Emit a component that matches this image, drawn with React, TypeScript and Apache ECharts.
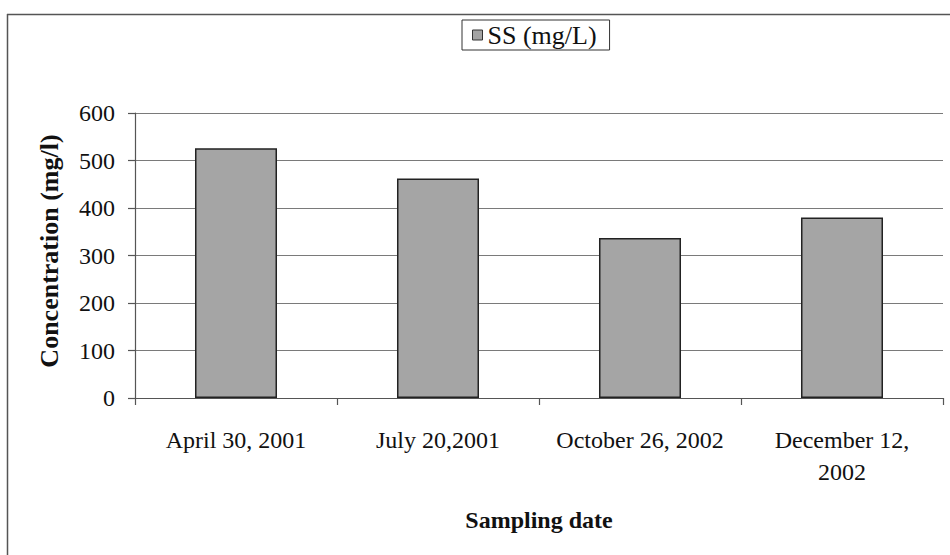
import React, { useEffect, useRef } from "react";
import * as echarts from "echarts";

// Sampling dates and suspended solids concentration (mg/L)
const categories: string[] = [
  "April 30, 2001",
  "July 20,2001",
  "October 26, 2002",
  "December 12,\n2002",
];
const ssValues: number[] = [526, 462, 337, 380];
const seriesName = "SS (mg/L)";
const yTitle = "Concentration (mg/l)";
const xTitle = "Sampling date";
const yMin = 0;
const yMax = 600;
const yStep = 100;

const SERIF = "'Liberation Serif', 'Times New Roman', Times, serif";

export default function App() {
  const ref = useRef<HTMLDivElement>(null);

  useEffect(() => {
    if (!ref.current) return;
    const chart = echarts.init(ref.current, undefined, { renderer: "svg" });
    chart.setOption({
      animation: false,
      backgroundColor: "#ffffff",
      textStyle: { fontFamily: SERIF, color: "#111" },
      grid: { left: 135, right: 7, top: 113, bottom: 157, containLabel: false },
      legend: {
        data: [seriesName],
        left: 462,
        top: 20,
        orient: "horizontal",
        icon: "rect",
        itemWidth: 10,
        itemHeight: 10,
        itemGap: 5,
        padding: [2, 13, 2, 10],
        borderColor: "#333",
        borderWidth: 1,
        backgroundColor: "#fff",
        textStyle: {
          fontFamily: SERIF,
          fontSize: 26,
          lineHeight: 26,
          color: "#111",
        },
        itemStyle: { color: "#a3a3a3", borderColor: "#333", borderWidth: 1 },
      },
      xAxis: {
        type: "category",
        data: categories,
        boundaryGap: true,
        axisLine: { show: true, lineStyle: { color: "#555", width: 1.2 } },
        axisTick: { show: true, length: 7, lineStyle: { color: "#555", width: 1.2 } },
        axisLabel: {
          fontFamily: SERIF,
          fontSize: 24,
          lineHeight: 32,
          color: "#111",
          margin: 26,
          interval: 0,
        },
        splitLine: { show: false },
      },
      yAxis: {
        type: "value",
        min: yMin,
        max: yMax,
        interval: yStep,
        axisLine: { show: true, lineStyle: { color: "#555", width: 1.2 } },
        axisTick: { show: true, length: 7, lineStyle: { color: "#555", width: 1.2 } },
        axisLabel: {
          fontFamily: SERIF,
          fontSize: 24,
          color: "#111",
          margin: 20,
        },
        splitLine: { show: true, lineStyle: { color: "#7a7a7a", width: 1.2 } },
      },
      series: [
        {
          name: seriesName,
          type: "bar",
          data: ssValues,
          barCategoryGap: "59.4%",
          itemStyle: { color: "#a5a5a5", borderColor: "#222", borderWidth: 1.5 },
        },
      ],
      graphic: [
        // outer frame edges (top and left)
        {
          type: "line",
          shape: { x1: 7, y1: 14.5, x2: 950, y2: 14.5 },
          style: { stroke: "#555", lineWidth: 1.5 },
          silent: true,
        },
        {
          type: "line",
          shape: { x1: 7.5, y1: 14, x2: 7.5, y2: 555 },
          style: { stroke: "#555", lineWidth: 1.5 },
          silent: true,
        },
        // y-axis title
        {
          type: "text",
          x: 49,
          y: 251,
          rotation: Math.PI / 2,
          style: {
            text: yTitle,
            fontFamily: SERIF,
            fontSize: 26,
            fontWeight: "bold",
            fill: "#111",
            align: "center",
            verticalAlign: "middle",
          },
          silent: true,
        },
        // x-axis title
        {
          type: "text",
          x: 539,
          y: 520,
          style: {
            text: xTitle,
            fontFamily: SERIF,
            fontSize: 24,
            fontWeight: "bold",
            fill: "#111",
            align: "center",
            verticalAlign: "middle",
          },
          silent: true,
        },
      ],
    });
    return () => chart.dispose();
  }, []);

  return (
    <div
      ref={ref}
      style={{ position: "absolute", left: 0, top: 0, width: 950, height: 555 }}
    />
  );
}
